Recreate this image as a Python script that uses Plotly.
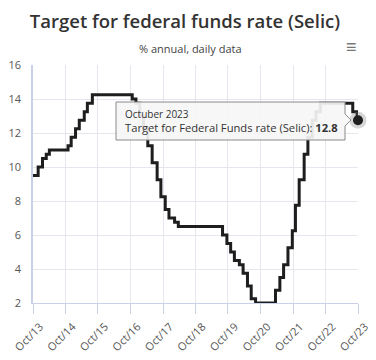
import plotly.graph_objects as go

# ---- data (Copom target changes) ----
dates = ["2013-10-01", "2013-11-28", "2014-01-16", "2014-02-27", "2014-04-03",
         "2014-10-30", "2014-12-04", "2015-01-22", "2015-03-05", "2015-04-30",
         "2015-06-04", "2015-07-30", "2016-10-20", "2016-12-01", "2017-01-12",
         "2017-02-23", "2017-04-13", "2017-06-01", "2017-07-27", "2017-09-07",
         "2017-10-26", "2017-12-07", "2018-02-08", "2018-03-22", "2019-08-01",
         "2019-09-19", "2019-10-31", "2019-12-12", "2020-02-06", "2020-03-19",
         "2020-05-07", "2020-06-18", "2020-08-06", "2021-03-18", "2021-05-06",
         "2021-06-17", "2021-08-05", "2021-09-23", "2021-10-28", "2021-12-09",
         "2022-02-03", "2022-03-17", "2022-05-05", "2022-06-16", "2022-08-04",
         "2023-08-03", "2023-09-21", "2023-10-01"]
values = [9.5, 10.0, 10.5, 10.75, 11.0,
          11.25, 11.75, 12.25, 12.75, 13.25,
          13.75, 14.25, 14.0, 13.75, 13.0,
          12.25, 11.25, 10.25, 9.25, 8.25,
          7.5, 7.0, 6.75, 6.5, 6.0,
          5.5, 5.0, 4.5, 4.25, 3.75,
          3.0, 2.25, 2.0, 2.75, 3.5,
          4.25, 5.25, 6.25, 7.75, 9.25,
          10.75, 11.75, 12.75, 13.25, 13.75,
          13.25, 12.75, 12.75]

tick_dates = ["2013-10-01", "2014-10-01", "2015-10-01", "2016-10-01", "2017-10-01",
              "2018-10-01", "2019-10-01", "2020-10-01", "2021-10-01", "2022-10-01",
              "2023-10-01"]
tick_labels = ["Oct/13", "Oct/14", "Oct/15", "Oct/16", "Oct/17", "Oct/18",
               "Oct/19", "Oct/20", "Oct/21", "Oct/22", "Oct/23"]
y_ticks = [2, 4, 6, 8, 10, 12, 14, 16]

title = "Target for federal funds rate (Selic)"
subtitle = "% annual, daily data"
tip_date = "Octuber 2023"
tip_series = "Target for Federal Funds rate (Selic)"
tip_value = "12.8"

# the page body has an 8px margin; compensate so the screen layout matches
OFF = 8
W, H = 376, 360
ML, MR, MT, MB = 33 - OFF, 18 + OFF, 65 - OFF, 57 + OFF
PW, PH = W - ML - MR, H - MT - MB

def px(x):  # screen pixel -> paper
    return (x - OFF - ML) / PW

def py(y):
    return (H - MB - (y - OFF)) / PH

fig = go.Figure()
fig.add_trace(go.Scatter(x=dates, y=values, mode="lines", line_shape="hv",
                         line=dict(color="#1e1e1e", width=3),
                         hoverinfo="skip", showlegend=False))
# hovered point halo + marker
fig.add_trace(go.Scatter(x=dates[-1:], y=values[-1:], mode="markers",
                         marker=dict(size=17, color="rgba(120,120,120,0.3)"),
                         hoverinfo="skip", showlegend=False, cliponaxis=False))
fig.add_trace(go.Scatter(x=dates[-1:], y=values[-1:], mode="markers",
                         marker=dict(size=10, color="#1e1e1e",
                                     line=dict(color="#ffffff", width=0)),
                         hoverinfo="skip", showlegend=False, cliponaxis=False))

# tooltip callout
bx0, bx1, by0, by1 = 116, 345, 102, 140
tipx, tipy = 351, 120
path = (f"M {px(bx0)},{py(by0)} L {px(bx1)},{py(by0)} L {px(bx1)},{py(tipy-6)} "
        f"L {px(tipx)},{py(tipy)} L {px(bx1)},{py(tipy+6)} L {px(bx1)},{py(by1)} "
        f"L {px(bx0)},{py(by1)} Z")
fig.add_shape(type="path", xref="paper", yref="paper", path=path,
              fillcolor="rgba(246,246,246,0.92)",
              line=dict(color="#8a8a8a", width=1), layer="above")

fig.add_annotation(xref="paper", yref="paper", x=px(123), y=py(114),
                   xanchor="left", yanchor="middle", showarrow=False,
                   text=tip_date, font=dict(size=10, color="#333333",
                                            family="Open Sans"))
fig.add_annotation(xref="paper", yref="paper", x=px(123), y=py(128),
                   xanchor="left", yanchor="middle", showarrow=False,
                   text=f"{tip_series}: <b>{tip_value}</b>",
                   font=dict(size=11.2, color="#333333", family="Open Sans"))

# hamburger menu
fig.add_annotation(xref="paper", yref="paper", x=px(351), y=py(46),
                   xanchor="center", yanchor="middle", showarrow=False,
                   text="≡", font=dict(size=18, color="#777777"))
# subtitle
fig.add_annotation(xref="paper", yref="paper", x=px(190), y=py(48),
                   xanchor="center", yanchor="middle", showarrow=False,
                   text=subtitle, font=dict(size=11, color="#444444",
                                            family="Open Sans"))

fig.update_layout(
    width=W, height=H,
    margin=dict(l=ML, r=MR, t=MT, b=MB, autoexpand=False),
    paper_bgcolor="white", plot_bgcolor="white",
    title=dict(text=title, x=(185 - OFF) / W, xanchor="center",
               y=1 - (22 - OFF) / H, yanchor="middle", yref="container",
               font=dict(size=18.5, color="#333333", family="Open Sans",
                         weight=600)),
    xaxis=dict(range=[dates[0], dates[-1]], tickmode="array",
               tickvals=tick_dates, ticktext=tick_labels, tickangle=-45,
               showgrid=True, gridcolor="#e6e6ee", gridwidth=1,
               showline=True, linecolor="#ccd0e6", linewidth=1,
               ticks="outside", ticklen=10, tickcolor="#ccd0e6",
               ticklabelstandoff=2, ticklabelshift=7,
               ticklabeloverflow="allow", automargin=False,
               tickfont=dict(size=11, color="#555555", family="Open Sans"),
               zeroline=False, fixedrange=True),
    yaxis=dict(range=[2, 16], tickvals=y_ticks,
               showgrid=True, gridcolor="#e6e6ee", gridwidth=1,
               showline=True, linecolor="#ccd0e6", linewidth=1.5,
               ticklabelstandoff=8, ticklabeloverflow="allow",
               automargin=False,
               tickfont=dict(size=11, color="#555555", family="Open Sans"),
               zeroline=False, fixedrange=True),
)
fig.write_html("out.html")
